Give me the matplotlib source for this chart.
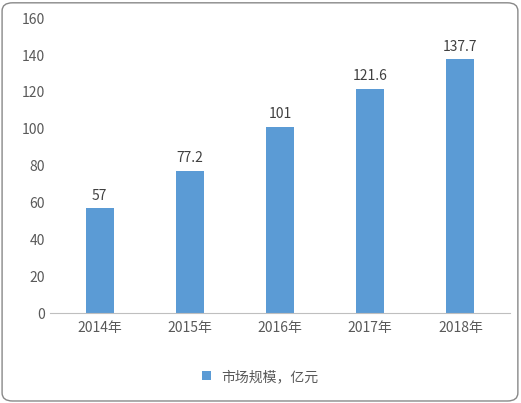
import matplotlib
matplotlib.use("Agg")
import matplotlib.pyplot as plt
from matplotlib.patches import FancyBboxPatch

plt.rcParams['font.family'] = ['Noto Sans CJK SC', 'DejaVu Sans']

years = ["2014年", "2015年", "2016年", "2017年", "2018年"]
values = [57, 77.2, 101, 121.6, 137.7]
labels = ["57", "77.2", "101", "121.6", "137.7"]

fig = plt.figure(figsize=(5.21, 4.03), dpi=100)
fig.patches.append(FancyBboxPatch((0.004, 0.005), 0.99, 0.988, boxstyle="round,pad=0,rounding_size=0.02",
                                  transform=fig.transFigure, fill=False, edgecolor="#888888", linewidth=1))
ax = fig.add_axes([0.096, 0.223, 0.883, 0.732])
x = range(len(years))
bars = ax.bar(x, values, width=0.31, color="#5B9BD5", label="市场规模，亿元")
for i, (v, t) in enumerate(zip(values, labels)):
    ax.text(i, v + 3, t, ha="center", va="bottom", fontsize=10, color="#404040")
ax.set_ylim(0, 160)
ax.set_yticks(range(0, 161, 20))
ax.set_xticks(list(x))
ax.set_xticklabels(years)
ax.set_xlim(-0.55, 4.55)
for s in ["top", "right", "left"]:
    ax.spines[s].set_visible(False)
ax.spines["bottom"].set_color("#BFBFBF")
ax.tick_params(axis="both", length=0, labelsize=10, colors="#595959")
ax.tick_params(axis="x", pad=6)
fig.legend(loc="center", bbox_to_anchor=(0.5, 0.065), frameon=False, fontsize=10,
           handlelength=0.6, handleheight=0.6, labelcolor="#595959")
fig.savefig("out.png", dpi=100)
